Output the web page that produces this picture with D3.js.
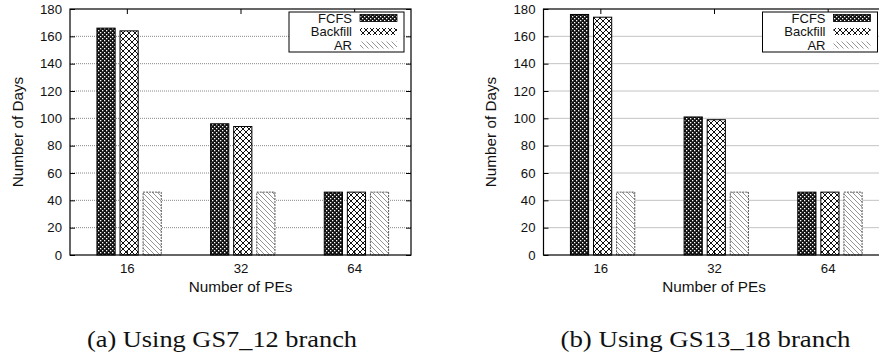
<!DOCTYPE html>
<html>
<head>
<meta charset="utf-8">
<script src="https://cdn.jsdelivr.net/npm/d3@7"></script>
<style>
  body { margin: 0; background: #fff; }
  text { font-family: "Liberation Sans", Arial, sans-serif; fill: #111; }
</style>
</head>
<body>
<div id="chart"></div>
<script>
// data
const peLabels = ["16", "32", "64"];
const seriesNames = ["FCFS", "Backfill", "AR"];
const fcfsA = [166, 96, 46];
const backfillA = [164, 94, 46];
const arA = [46, 46, 46];
const fcfsB = [176, 101, 46];
const backfillB = [174, 99, 46];
const arB = [46, 46, 46];
const yTickValues = [0, 20, 40, 60, 80, 100, 120, 140, 160, 180];
const captions = ["(a) Using GS7_12 branch", "(b) Using GS13_18 branch"];

const W = 879, H = 360;
const svg = d3.select("#chart").append("svg")
  .attr("width", W)
  .attr("height", H);

const defs = svg.append("defs");

// FCFS: dark with small white dots
const pFcfs = defs.append("pattern")
  .attr("id", "p-fcfs")
  .attr("patternUnits", "userSpaceOnUse")
  .attr("width", 4).attr("height", 4);
pFcfs.append("rect").attr("width", 4).attr("height", 4).attr("fill", "#111");
pFcfs.append("rect").attr("x", 0).attr("y", 0).attr("width", 1.3).attr("height", 1.3).attr("fill", "#fff");
pFcfs.append("rect").attr("x", 2).attr("y", 2).attr("width", 1.3).attr("height", 1.3).attr("fill", "#fff");

// Backfill: cross hatch
const pBack = defs.append("pattern")
  .attr("id", "p-back")
  .attr("patternUnits", "userSpaceOnUse")
  .attr("width", 6).attr("height", 6);
pBack.append("rect").attr("width", 6).attr("height", 6).attr("fill", "#fff");
pBack.append("path")
  .attr("d", "M0,0L6,6M6,0L0,6")
  .attr("stroke", "#111")
  .attr("stroke-width", 1);

// AR: light diagonal lines
const pAr = defs.append("pattern")
  .attr("id", "p-ar")
  .attr("patternUnits", "userSpaceOnUse")
  .attr("width", 5).attr("height", 5);
pAr.append("rect").attr("width", 5).attr("height", 5).attr("fill", "#fff");
pAr.append("path")
  .attr("d", "M0,0L5,5M-1,4L1,6M4,-1L6,1")
  .attr("stroke", "#888")
  .attr("stroke-width", 0.9);

const fills = ["url(#p-fcfs)", "url(#p-back)", "url(#p-ar)"];
const outlines = [
  { stroke: "#000", dash: null },
  { stroke: "#000", dash: null },
  { stroke: "#555", dash: "2,1" }
];

function drawPanel(left, values, caption) {
  const plotTop = 9, plotBottom = 255, plotW = 341;
  const x = d3.scaleLinear().domain([-0.5, 2.5]).range([left, left + plotW]);
  const y = d3.scaleLinear().domain([0, 180]).range([plotBottom, plotTop]);
  const g = svg.append("g");

  // dotted grid
  g.append("g")
    .selectAll("line")
    .data(yTickValues.filter(v => v > 0 && v < 180))
    .join("line")
    .attr("x1", x(-0.5)).attr("x2", x(2.5))
    .attr("y1", d => y(d)).attr("y2", d => y(d))
    .attr("stroke", "#888")
    .attr("stroke-width", 1)
    .attr("stroke-dasharray", "1,1");

  // bars
  const barW = x(0.16) - x(0);
  values.forEach((vals, si) => {
    g.append("g")
      .selectAll("rect")
      .data(vals)
      .join("rect")
      .attr("x", (d, i) => x(i + (si - 1) * 0.203 + 0.02) - barW / 2)
      .attr("y", d => y(d))
      .attr("width", barW)
      .attr("height", d => y(0) - y(d))
      .attr("fill", fills[si])
      .attr("stroke", outlines[si].stroke)
      .attr("stroke-width", 1)
      .attr("stroke-dasharray", outlines[si].dash);
  });

  // axes (gnuplot style, ticks inward, mirrored)
  const yAxis = d3.axisLeft(y).tickValues(yTickValues).tickSize(-5).tickPadding(8);
  const gy = g.append("g").attr("transform", `translate(${left},0)`).call(yAxis);
  const xAxis = d3.axisBottom(x).tickValues([0, 1, 2])
    .tickFormat((d, i) => peLabels[i]).tickSize(-5).tickPadding(9);
  const gx = g.append("g").attr("transform", `translate(0,${plotBottom})`).call(xAxis);
  [gx, gy].forEach(a => {
    a.select(".domain").remove();
    a.selectAll("line").attr("stroke", "#000");
    a.selectAll("text").style("font-size", "13.2px")
      .style("font-family", "'Liberation Sans', Arial, sans-serif").attr("fill", "#111");
  });
  g.append("g").attr("transform", `translate(${left + plotW},0)`)
    .call(d3.axisRight(y).tickValues(yTickValues).tickSize(-5).tickFormat(""))
    .call(a => { a.select(".domain").remove(); a.selectAll("line").attr("stroke", "#000"); });
  g.append("g").attr("transform", `translate(0,${plotTop})`)
    .call(d3.axisTop(x).tickValues([0, 1, 2]).tickSize(-5).tickFormat(""))
    .call(a => { a.select(".domain").remove(); a.selectAll("line").attr("stroke", "#000"); });

  // frame
  g.append("rect")
    .attr("x", left).attr("y", plotTop)
    .attr("width", plotW).attr("height", plotBottom - plotTop)
    .attr("fill", "none")
    .attr("stroke", "#000")
    .attr("stroke-width", 1.2);

  // axis titles
  g.append("text")
    .attr("transform", `translate(${left - 47.5},${(plotTop + plotBottom) / 2}) rotate(-90)`)
    .attr("text-anchor", "middle")
    .style("font-size", "15.3px")
    .text("Number of Days");
  g.append("text")
    .attr("x", x(1))
    .attr("y", 292)
    .attr("text-anchor", "middle")
    .style("font-size", "15.3px")
    .text("Number of PEs");

  // legend
  const boxR = left + plotW - 7;
  const lg = g.append("g");
  lg.append("rect")
    .attr("x", boxR - 115).attr("y", 12)
    .attr("width", 115).attr("height", 40)
    .attr("fill", "#fff")
    .attr("stroke", "#000")
    .attr("stroke-width", 1);
  seriesNames.forEach((name, si) => {
    const cy = 18 + si * 13.5;
    lg.append("text")
      .attr("x", boxR - 52)
      .attr("y", cy + 4.5)
      .attr("text-anchor", "end")
      .style("font-size", "13px")
      .text(name);
    lg.append("rect")
      .attr("x", boxR - 44).attr("y", cy - 3.5)
      .attr("width", 37).attr("height", 7)
      .attr("fill", fills[si])
      .attr("stroke", si === 0 ? "#000" : "none")
      .attr("stroke-width", 0.8);
  });

  // sub caption
  svg.append("text")
    .attr("x", left + 17)
    .attr("y", 347)
    .attr("textLength", caption.length > 23 ? 290 : 270)
    .attr("lengthAdjust", "spacingAndGlyphs")
    .style("font-size", "24px")
    .style("font-family", "'Liberation Serif', 'DejaVu Serif', serif")
    .text(caption);
}

drawPanel(70, [fcfsA, backfillA, arA], captions[0]);
drawPanel(543.5, [fcfsB, backfillB, arB], captions[1]);
</script>
</body>
</html>
